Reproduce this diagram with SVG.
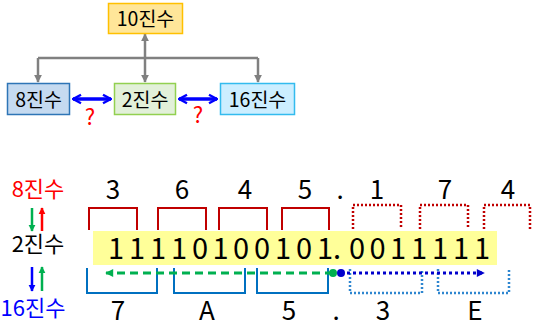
<svg xmlns="http://www.w3.org/2000/svg" width="537" height="327" viewBox="0 0 537 327">
<style>
text{font-family:"Noto Sans CJK KR","Liberation Sans",sans-serif;fill:#000}
.node{stroke-width:1.5}
.lbl{font-size:19.5px;text-anchor:middle}
.side{font-size:22px;text-anchor:middle}
.dig{font-size:26px;text-anchor:middle}
.bin{font-size:29px;text-anchor:middle}
.q{font-size:22px;fill:#FF0000;text-anchor:middle}
.gray{stroke:#808080;stroke-width:2.5;fill:none}
.blue2{stroke:#0000FF;stroke-width:3.5;fill:none}
.oct{stroke:#C00000;stroke-width:2;fill:none}
.octd{stroke:#C00000;stroke-width:2.5;fill:none;stroke-dasharray:2 2}
.hex{stroke:#0070C0;stroke-width:2;fill:none}
.hexd{stroke:#2E86D0;stroke-width:2.5;fill:none;stroke-dasharray:2 2}
</style>
<defs>
<marker id="ga" viewBox="0 0 10 10" refX="9" refY="5" markerWidth="8" markerHeight="8" markerUnits="userSpaceOnUse" orient="auto-start-reverse"><path d="M0,0L10,5L0,10z" fill="#808080"/></marker>
<marker id="bv" viewBox="0 0 10 10" refX="9" refY="5" markerWidth="10" markerHeight="12" markerUnits="userSpaceOnUse" orient="auto-start-reverse"><path d="M1,0.8L9,5L1,9.2" fill="none" stroke="#0000FF" stroke-width="2.4"/></marker>
<marker id="ar" viewBox="0 0 10 10" refX="9" refY="5" markerWidth="7" markerHeight="8" markerUnits="userSpaceOnUse" orient="auto"><path d="M0,0L10,5L0,10z" fill="#FF0000"/></marker>
<marker id="ag" viewBox="0 0 10 10" refX="9" refY="5" markerWidth="7" markerHeight="8" markerUnits="userSpaceOnUse" orient="auto"><path d="M0,0L10,5L0,10z" fill="#00B050"/></marker>
<marker id="ab" viewBox="0 0 10 10" refX="9" refY="5" markerWidth="7" markerHeight="8" markerUnits="userSpaceOnUse" orient="auto"><path d="M0,0L10,5L0,10z" fill="#0000FF"/></marker>
<marker id="agl" viewBox="0 0 10 10" refX="9" refY="5" markerWidth="9" markerHeight="8" markerUnits="userSpaceOnUse" orient="auto"><path d="M0,0L10,5L0,10z" fill="#00B050"/></marker>
<marker id="abl" viewBox="0 0 10 10" refX="9" refY="5" markerWidth="9" markerHeight="8" markerUnits="userSpaceOnUse" orient="auto"><path d="M0,0L10,5L0,10z" fill="#0000CC"/></marker>
</defs>

<g id="connectors">
<path class="gray" d="M38,58H258"/>
<path class="gray" d="M38,58V82" marker-end="url(#ga)"/>
<path class="gray" d="M258,58V82" marker-end="url(#ga)"/>
<path class="gray" d="M145,34V82" marker-start="url(#ga)" marker-end="url(#ga)"/>
<path class="blue2" d="M73,99H111" marker-start="url(#bv)" marker-end="url(#bv)"/>
<path class="blue2" d="M179,99H217" marker-start="url(#bv)" marker-end="url(#bv)"/>
<text class="q" x="90" y="125">?</text>
<text class="q" x="198" y="123">?</text>
</g>

<g id="n10">
<rect class="node" x="108.5" y="3.5" width="74" height="30" fill="#FFE699" stroke="#FFC000"/>
<text class="lbl" x="145.5" y="25.5">10진수</text>
</g>
<g id="n8">
<rect class="node" x="7.5" y="83.5" width="62" height="31" fill="#C5DAF0" stroke="#2E75B6"/>
<text class="lbl" x="38.5" y="106.5">8진수</text>
</g>
<g id="n2">
<rect class="node" x="114.5" y="83.5" width="61" height="31" fill="#E2F0D9" stroke="#92D050"/>
<text class="lbl" x="145" y="106.5">2진수</text>
</g>
<g id="n16">
<rect class="node" x="220.5" y="83.5" width="74" height="31" fill="#CCEEFF" stroke="#33BBEE"/>
<text class="lbl" x="257.5" y="106.5">16진수</text>
</g>

<g id="conversion">
<text class="side" x="38" y="197" style="fill:#FF0000">8진수</text>
<text class="side" x="38" y="252">2진수</text>
<text class="side" x="33" y="316" style="fill:#0000FF">16진수</text>
<line x1="32" y1="208" x2="32" y2="231" stroke="#00B050" stroke-width="2.5" marker-end="url(#ag)"/>
<line x1="42" y1="231" x2="42" y2="208" stroke="#FF0000" stroke-width="2.5" marker-end="url(#ar)"/>
<line x1="32" y1="267" x2="32" y2="291" stroke="#0000FF" stroke-width="2.5" marker-end="url(#ab)"/>
<line x1="42" y1="291" x2="42" y2="267" stroke="#00B050" stroke-width="2.5" marker-end="url(#ag)"/>

<rect x="93" y="231" width="404" height="34" fill="#FFFF99"/>
<text class="bin" x="116 137 158 179 200 220.5 241 262 283 304 325 337 357 377.5 398 419 440 461 482" y="259">11110100101.0011111</text>

<text class="dig" x="113 182 245 305 340 377 445 508" y="199">3645.174</text>
<path class="oct" d="M89,230V208H137V230M158,230V208H206V230M219,230V208H267V230M282,230V208H329V230"/>
<path class="octd" d="M353,229V205H401V229M420,229V205H468V229M484,229V205H530V229"/>

<path class="hex" d="M87,268V293H157V268M174,268V293H245V268M257,268V293H328V268"/>
<path class="hexd" d="M350,269V293H422V269M438,269V293H509V269"/>
<text class="dig" x="118 207 289 336 383 475" y="320">7A5.3E</text>

<line x1="333" y1="273" x2="106" y2="273" stroke="#00B050" stroke-width="3" stroke-dasharray="8 5" marker-end="url(#agl)"/>
<line x1="341" y1="273" x2="484" y2="273" stroke="#0000CC" stroke-width="3" stroke-dasharray="3 3" marker-end="url(#abl)"/>
<circle cx="333" cy="273" r="4" fill="#00B050"/>
<circle cx="341" cy="273" r="4" fill="#0000CC"/>
</g>
</svg>
